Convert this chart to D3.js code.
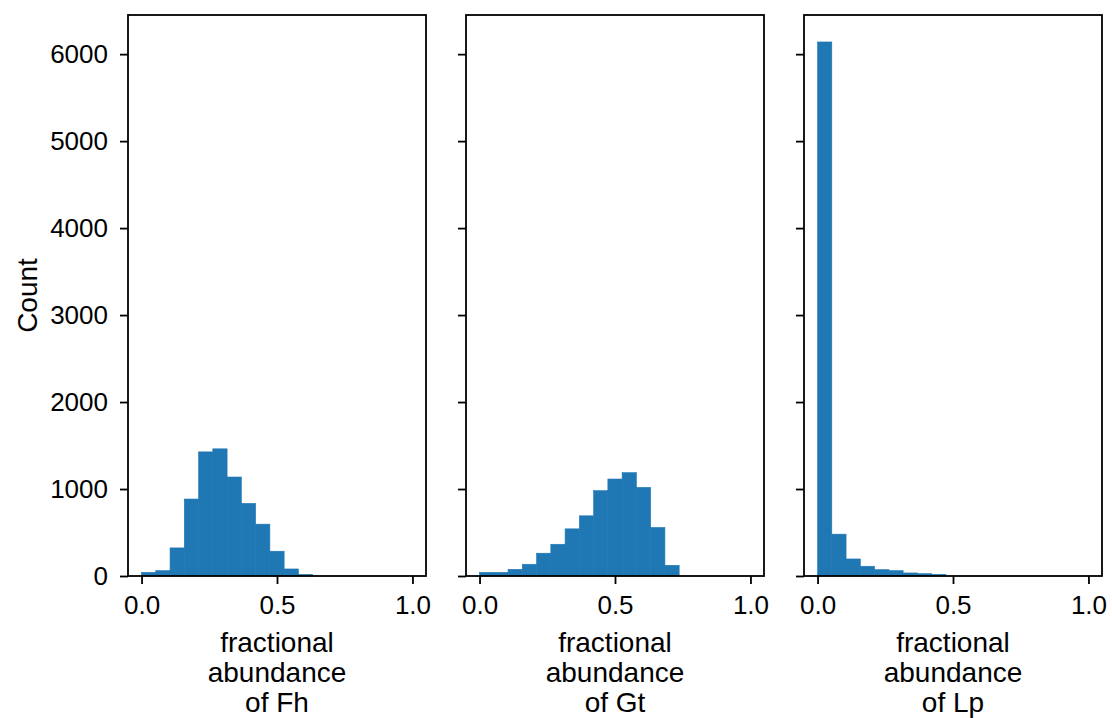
<!DOCTYPE html>
<html>
<head>
<meta charset="utf-8">
<script src="https://cdn.jsdelivr.net/npm/d3@7"></script>
<style>
  body { margin: 0; background: #fff; }
  text { font-family: "Liberation Sans", Arial, sans-serif; fill: #000; }
</style>
</head>
<body>
<div id="chart"></div>
<script>
// 19 equal bins between 0 and 1
var binEdges = d3.range(20).map(function(i) { return i / 19; });

// counts per bin
var fhCounts = [42, 62, 323, 885, 1427, 1462, 1138, 835, 596, 285, 81, 19, 0, 0, 0, 0, 0, 0, 0];
var gtCounts = [42, 42, 77, 135, 262, 365, 542, 692, 981, 1115, 1188, 1019, 558, 123, 0, 0, 0, 0, 0];
var lpCounts = [6140, 481, 196, 112, 73, 62, 35, 27, 19, 0, 0, 0, 0, 0, 0, 0, 0, 0, 0];

var panelNames = ["Fh", "Gt", "Lp"];
var yTicks = [0, 1000, 2000, 3000, 4000, 5000, 6000];
var xTicks = [0, 0.5, 1];

var svgWidth = 1112;
var svgHeight = 718;

var panelLeft = [128, 466, 804];
var panelWidth = 298;
var plotTop = 15, plotBottom = 576;

var svg = d3.select("#chart")
  .append("svg")
  .attr("width", svgWidth)
  .attr("height", svgHeight);

var y = d3.scaleLinear()
  .domain([0, 6450])
  .range([plotBottom, plotTop]);

var allCounts = [fhCounts, gtCounts, lpCounts];

allCounts.forEach(function(counts, p) {
  var x = d3.scaleLinear()
    .domain([-0.05, 1.05])
    .range([panelLeft[p], panelLeft[p] + panelWidth]);

  var g = svg.append("g");

  var bins = counts.map(function(c, i) {
    return { x0: binEdges[i], x1: binEdges[i + 1], count: c };
  });

  g.selectAll("rect")
    .data(bins.filter(function(b) { return b.count > 0; }))
    .enter().append("rect")
      .attr("x", function(b) { return x(b.x0); })
      .attr("width", function(b) { return x(b.x1) - x(b.x0); })
      .attr("y", function(b) { return y(b.count); })
      .attr("height", function(b) { return y(0) - y(b.count); })
      .attr("fill", "#1f77b4")
      .attr("stroke", "#1f77b4")
      .attr("stroke-width", 0.6);

  // x axis
  var xAxis = d3.axisBottom(x)
    .tickValues(xTicks)
    .tickFormat(d3.format(".1f"))
    .tickSize(8)
    .tickPadding(12);

  var gx = g.append("g")
    .attr("transform", "translate(0," + plotBottom + ")")
    .call(xAxis);

  // y axis
  var yAxis = d3.axisLeft(y)
    .tickValues(yTicks)
    .tickSize(8)
    .tickPadding(12)
    .tickFormat(p === 0 ? d3.format("d") : "");

  var gy = g.append("g")
    .attr("transform", "translate(" + panelLeft[p] + ",0)")
    .call(yAxis);

  [gx, gy].forEach(function(ax) {
    ax.select(".domain").remove();
    ax.selectAll(".tick line").attr("stroke", "#000").attr("stroke-width", 1.8);
    ax.selectAll(".tick text")
      .style("font-size", "26px")
      .style("font-family", "Liberation Sans, Arial, sans-serif")
      .attr("fill", "#000");
  });

  // frame
  g.append("rect")
    .attr("x", panelLeft[p])
    .attr("y", plotTop)
    .attr("width", panelWidth)
    .attr("height", plotBottom - plotTop)
    .attr("fill", "none")
    .attr("stroke", "#000")
    .attr("stroke-width", 1.8);

  // x label, three lines
  var lines = ["fractional", "abundance", "of " + panelNames[p]];
  var label = g.append("text")
    .attr("text-anchor", "middle")
    .style("font-size", "28px");
  lines.forEach(function(line, i) {
    label.append("tspan")
      .attr("x", x(0.5))
      .attr("y", 652 + i * 30)
      .text(line);
  });
});

// y label
svg.append("text")
  .attr("transform", "translate(37," + ((plotTop + plotBottom) / 2) + ") rotate(-90)")
  .attr("text-anchor", "middle")
  .style("font-size", "28px")
  .text("Count");
</script>
</body>
</html>
